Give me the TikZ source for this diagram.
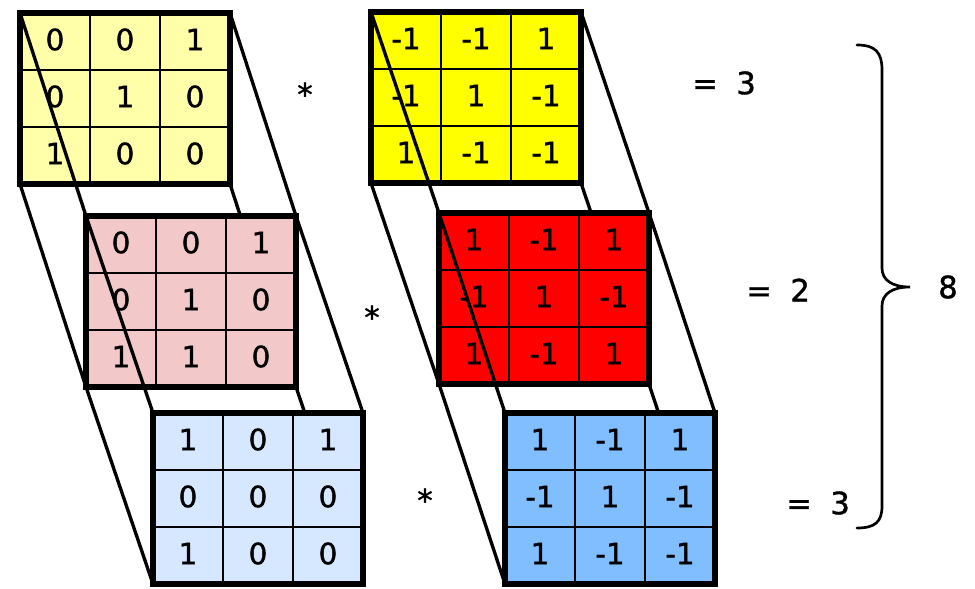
\documentclass[tikz,border=0pt]{standalone}
\usepackage{fontspec}
\setmainfont{DejaVu Sans}
\newfontfamily\numfont[BoldFont={DejaVu Sans}, BoldFeatures={FakeBold=1.2}]{DejaVu Sans}
\usetikzlibrary{calc}
\definecolor{paleyellow}{RGB}{255,255,170}
\definecolor{palepink}{RGB}{242,200,200}
\definecolor{paleblue}{RGB}{214,232,255}
\definecolor{brightyellow}{RGB}{255,255,0}
\definecolor{brightred}{RGB}{255,0,0}
\definecolor{midblue}{RGB}{128,190,255}
\tikzset{
  gridbox/.style={anchor=north west, inner sep=0pt, outer sep=0pt,
    minimum width=210*0.75pt, minimum height=171*0.75pt},
  gridborder/.style={draw=black, line width=4.2pt},
  cellline/.style={draw=black, line width=1pt},
  cellnum/.style={inner sep=0pt, font=\numfont\bfseries\fontsize{22}{26}\selectfont, text=black},
  conn/.style={draw=black, line width=2.5pt},
  optext/.style={inner sep=0pt, font=\numfont\bfseries\fontsize{23}{27}\selectfont, text=black},
  bracestyle/.style={draw=black, line width=2pt, line cap=round}
}
\newcommand\cgrid[3]{%
  \fill[#2] (#1.north west) rectangle (#1.south east);
  \draw[cellline] ($(#1.north west)!1/3!(#1.north east)$) -- ($(#1.south west)!1/3!(#1.south east)$);
  \draw[cellline] ($(#1.north west)!2/3!(#1.north east)$) -- ($(#1.south west)!2/3!(#1.south east)$);
  \draw[cellline] ($(#1.north west)!1/3!(#1.south west)$) -- ($(#1.north east)!1/3!(#1.south east)$);
  \draw[cellline] ($(#1.north west)!2/3!(#1.south west)$) -- ($(#1.north east)!2/3!(#1.south east)$);
  \foreach \v [count=\k from 0] in {#3} {
    \pgfmathtruncatemacro\rr{int(\k/3)}
    \pgfmathtruncatemacro\cc{mod(\k,3)}
    \node[cellnum] (#1-\k) at ($(#1.north west)+({(\cc+0.5)*70},{(\rr+0.5)*57-2})$) {\v};
  }
  \draw[gridborder] (#1.north west) rectangle (#1.south east);
}
\newcommand\cconn[2]{%
  \draw[conn] (#1.north west) -- (#2.north west);
  \draw[conn] (#1.north east) -- (#2.north east);
  \draw[conn] (#1.south west) -- (#2.south west);
  \draw[conn] (#1.south east) -- (#2.south east);
}
\begin{document}
\begin{tikzpicture}[x=0.75pt, y=-0.75pt]
\useasboundingbox (0,0) rectangle (975,589);
% grid places
\node[gridbox] (LA) at (20,13) {};
\node[gridbox] (LB) at (86,216) {};
\node[gridbox] (LC) at (153,413) {};
\node[gridbox] (RA) at (371,12) {};
\node[gridbox] (RB) at (439,213) {};
\node[gridbox] (RC) at (505,413) {};
% left stack
\cgrid{LA}{paleyellow}{0,0,1,0,1,0,1,0,0}
\cconn{LA}{LB}
\cgrid{LB}{palepink}{0,0,1,0,1,0,1,1,0}
\cconn{LB}{LC}
\cgrid{LC}{paleblue}{1,0,1,0,0,0,1,0,0}
% right stack
\cgrid{RA}{brightyellow}{-1,-1,1,-1,1,-1,1,-1,-1}
\cconn{RA}{RB}
\cgrid{RB}{brightred}{1,-1,1,-1,1,-1,1,-1,1}
\cconn{RB}{RC}
\cgrid{RC}{midblue}{1,-1,1,-1,1,-1,1,-1,-1}
% operators
\node[optext] (s1) at (305,94) {*};
\node[optext] (s2) at (372,317) {*};
\node[optext] (s3) at (425,500) {*};
\node[optext, anchor=west] (e1) at (692,83) {=\hspace{0.6em}3};
\node[optext, anchor=west] (e2) at (746,290) {=\hspace{0.6em}2};
\node[optext, anchor=west] (e3) at (786,503) {=\hspace{0.6em}3};
% brace
\coordinate (btop) at (857,45);
\coordinate (btip) at (910,287);
\coordinate (bbot) at (857,528);
\draw[bracestyle] (btop) .. controls (875,45) and (882,52) .. (882,70) -- (882,268)
  .. controls (882,280) and (892,287) .. (btip)
  .. controls (892,287) and (882,294) .. (882,306) -- (882,506)
  .. controls (882,522) and (875,528) .. (bbot);
\node[optext] (total) at (948,287) {8};
\end{tikzpicture}
\end{document}
